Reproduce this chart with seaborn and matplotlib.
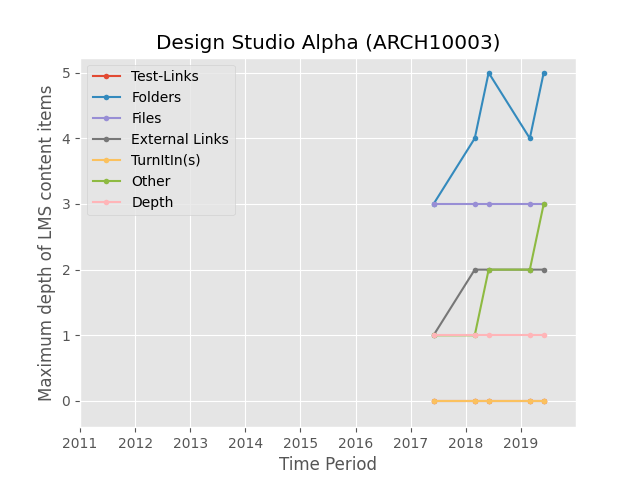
import pandas as pd
import numpy as np
import matplotlib
matplotlib.use("Agg")
import matplotlib.pyplot as plt
import matplotlib.dates as mdates
import seaborn as sns

periods = ["2017-06-01", "2018-03-01", "2018-06-01", "2019-03-01", "2019-06-01"]
test_links = [0, 0, 0, 0, 0]
folders = [3, 4, 5, 4, 5]
files = [3, 3, 3, 3, 3]
external_links = [1, 2, 2, 2, 2]
turnitin = [0, 0, 0, 0, 0]
other = [1, 1, 2, 2, 3]
depth = [1, 1, 1, 1, 1]

series = {
    "Test-Links": test_links,
    "Folders": folders,
    "Files": files,
    "External Links": external_links,
    "TurnItIn(s)": turnitin,
    "Other": other,
    "Depth": depth,
}

plt.style.use("ggplot")
colors = plt.rcParams["axes.prop_cycle"].by_key()["color"]

fig, ax = plt.subplots(figsize=(6.4, 4.8), dpi=100)
dates = pd.to_datetime(periods)
for (name, vals), c in zip(series.items(), colors):
    sns.lineplot(x=dates, y=vals, ax=ax, label=name, color=c,
                 marker="o", markersize=4, markeredgewidth=0, linewidth=1.5)

ax.set_xlim(pd.Timestamp("2011-01-01"), pd.Timestamp("2020-01-01"))
ax.set_ylim(-0.4, 5.23)
ax.xaxis.set_major_locator(mdates.YearLocator())
ax.xaxis.set_major_formatter(mdates.DateFormatter("%Y"))
ax.set_xticks([t for t in ax.get_xticks() if t < mdates.date2num(pd.Timestamp("2020-01-01"))])
ax.set_xlabel("Time Period")
ax.set_ylabel("Maximum depth of LMS content items")
ax.set_title("Design Studio Alpha (ARCH10003)")
ax.legend(loc="upper left")

fig.savefig("out.png", dpi=100)
